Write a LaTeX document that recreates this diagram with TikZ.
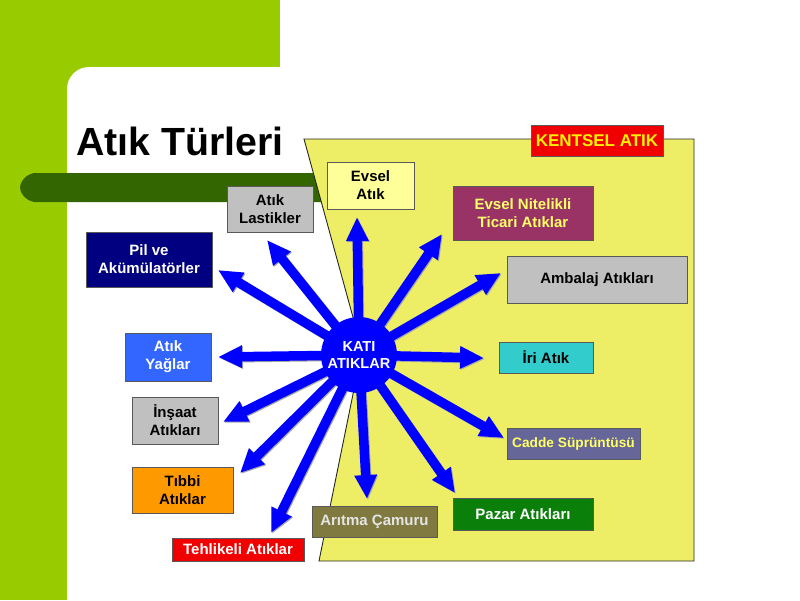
\documentclass[tikz,border=0pt]{standalone}
\usepackage{fontspec}
\setmainfont{Liberation Sans}
\usetikzlibrary{arrows.meta}
\pgfdeclarelayer{bg}
\pgfsetlayers{bg,main}
\definecolor{lightgreen}{HTML}{99CC00}
\definecolor{bargreen}{HTML}{336600}
\definecolor{trapyellow}{HTML}{EEEE66}
\definecolor{arrowblue}{HTML}{0000FF}
\definecolor{cEvsel}{HTML}{FFFF99}
\definecolor{cTicari}{HTML}{993366}
\definecolor{cGray}{HTML}{C0C0C0}
\definecolor{cIri}{HTML}{33CCCC}
\definecolor{cCadde}{HTML}{666699}
\definecolor{cPazar}{HTML}{0A800A}
\definecolor{cAritma}{HTML}{807A40}
\definecolor{cRed}{HTML}{F00000}
\definecolor{cTibbi}{HTML}{FF9900}
\definecolor{cYag}{HTML}{3366FF}
\definecolor{cPil}{HTML}{000080}
\definecolor{txtYellow}{HTML}{FFFF66}
\tikzset{
  box/.style={draw=black!65, line width=0.9pt, inner sep=0pt, align=center,
    font=\bfseries\fontsize{15}{18}\selectfont},
  fat/.style={line width=9.5pt, draw=arrowblue, -{Triangle[length=24pt,width=21pt]}},
  fatshadow/.style={line width=9.5pt, draw=black!35, -{Triangle[length=24pt,width=21pt]},
    transform canvas={shift={(1pt,-1pt)}}},
}
\begin{document}
\begin{tikzpicture}[x=1pt,y=-1pt]
\useasboundingbox (0,0) rectangle (800,600);
% title
\node[anchor=base west, inner sep=0pt, font=\bfseries\fontsize{39.3}{44}\selectfont] (title) at (76,155) {Atık Türleri};
% centre
\node[circle, fill=arrowblue, minimum size=76pt, inner sep=0pt, align=center, text=white,
  font=\bfseries\fontsize{14.5}{17}\selectfont] (kati) at (359,355) {KATI\\ATIKLAR};
% label
\node[box, fill=cRed, text=yellow, minimum width=132pt, minimum height=31pt,
  font=\bfseries\fontsize{17}{20}\selectfont] (kentsel) at (597,140.5) {KENTSEL ATIK};
% boxes
\node[box, fill=cEvsel, minimum width=87pt, minimum height=47pt] (evsel) at (370.5,185.5) {Evsel\\Atık};
\node[box, fill=cTicari, text=txtYellow, minimum width=140pt, minimum height=54pt] (ticari) at (523,213) {Evsel Nitelikli\\Ticari Atıklar};
\node[box, fill=cGray, minimum width=180pt, minimum height=47pt] (ambalaj) at (597,279.5) {Ambalaj Atıkları};
\node[box, fill=cIri, minimum width=94pt, minimum height=31pt] (iri) at (546,357.5) {İri Atık};
\node[box, fill=cCadde, text=txtYellow, minimum width=133pt, minimum height=31pt,
  font=\bfseries\fontsize{13.7}{16}\selectfont] (cadde) at (573.5,443.5) {Cadde Süprüntüsü};
\node[box, fill=cPazar, text=white, minimum width=140pt, minimum height=32pt] (pazar) at (523,514) {Pazar Atıkları};
\node[box, fill=cAritma, text=black!10, minimum width=125pt, minimum height=31pt] (aritma) at (374.5,521.5) {Arıtma Çamuru};
\node[box, fill=cRed, text=white, minimum width=132pt, minimum height=23pt] (tehlikeli) at (238,549.5) {Tehlikeli Atıklar};
\node[box, fill=cTibbi, minimum width=101pt, minimum height=46pt] (tibbi) at (182.5,490) {Tıbbi\\Atıklar};
\node[box, fill=cGray, minimum width=86pt, minimum height=47pt] (insaat) at (175,420.5) {İnşaat\\Atıkları};
\node[box, fill=cYag, text=white, minimum width=86pt, minimum height=48pt] (yaglar) at (168,357) {Atık\\Yağlar};
\node[box, fill=cPil, text=white, minimum width=126pt, minimum height=55pt] (pil) at (149,259.5) {Pil ve\\Akümülatörler};
\node[box, fill=cGray, minimum width=86pt, minimum height=46pt] (lastik) at (270,209) {Atık\\Lastikler};
% arrow tips
\coordinate (tEvsel) at (357,217);
\coordinate (tTicari) at (442,234);
\coordinate (tAmbalaj) at (501,273);
\coordinate (tIri) at (484,358);
\coordinate (tCadde) at (504,438);
\coordinate (tPazar) at (455,493);
\coordinate (tAritma) at (367,499);
\coordinate (tTehlikeli) at (271,533);
\coordinate (tTibbi) at (240,473);
\coordinate (tInsaat) at (223,422);
\coordinate (tYaglar) at (218,357);
\coordinate (tPil) at (218,270);
\coordinate (tLastik) at (267,240);
\begin{pgfonlayer}{bg}
  \fill[lightgreen] (0,0) rectangle (280,600);
  \fill[white, rounded corners=22pt] (67,67) rectangle (840,640);
  \fill[bargreen] (330,173) -- (34,173) .. controls (25,175) and (20,182) .. (20,187.5)
     .. controls (20,193) and (25,200) .. (34,202) -- (330,202) -- cycle;
  \filldraw[fill=trapyellow, draw=black!85, line width=0.9pt]
     (304,139) -- (694,139) -- (694,561) -- (319,561) -- (362,350) -- cycle;
  \foreach \t in {tEvsel,tTicari,tAmbalaj,tIri,tCadde,tPazar,tAritma,tTehlikeli,tTibbi,tInsaat,tYaglar,tPil,tLastik}{
    \draw[fatshadow] (kati.center) -- (\t);
  }
  \foreach \t in {tEvsel,tTicari,tAmbalaj,tIri,tCadde,tPazar,tAritma,tTehlikeli,tTibbi,tInsaat,tYaglar,tPil,tLastik}{
    \draw[fat] (kati.center) -- (\t);
  }
\end{pgfonlayer}
\end{tikzpicture}
\end{document}
